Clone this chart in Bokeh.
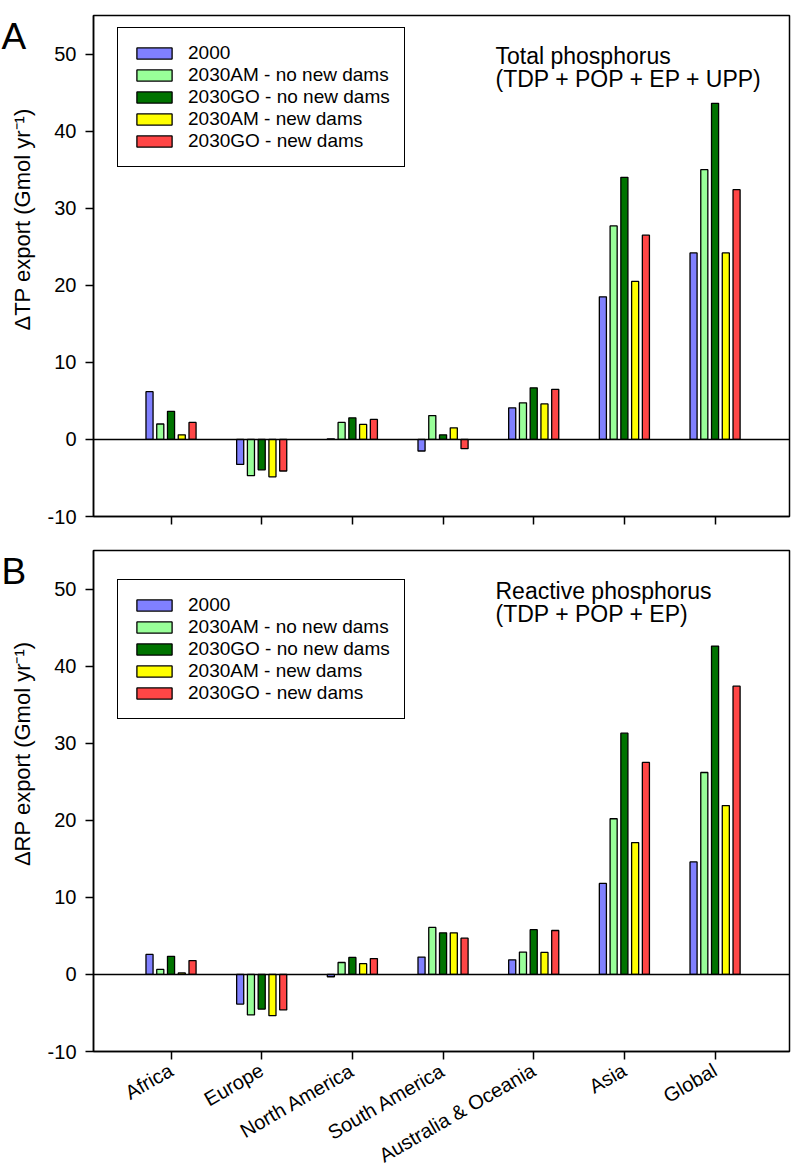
import numpy as np
from bokeh.plotting import figure
from bokeh.models import (ColumnDataSource, FixedTicker, Span, Label, Legend,
                          LegendItem, Range1d)
from bokeh.transform import dodge
from bokeh.layouts import column, row
from bokeh.embed import file_html
from bokeh.resources import INLINE

# ---------------- data ----------------
regions = ["Africa", "Europe", "North America", "South America",
           "Australia & Oceania", "Asia", "Global"]
series_names = ["2000", "2030AM - no new dams", "2030GO - no new dams",
                "2030AM - new dams", "2030GO - new dams"]
colors = ["#8080ff", "#99ff99", "#007300", "#ffff00", "#ff4646"]

# Panel A: delta TP export (Gmol/yr)
tp_2000 = [6.2, -3.25, 0.08, -1.5, 4.1, 18.5, 24.2]
tp_am_nodams = [2.0, -4.7, 2.2, 3.1, 4.75, 27.7, 35.0]
tp_go_nodams = [3.65, -3.95, 2.8, 0.6, 6.7, 34.0, 43.6]
tp_am_dams = [0.6, -4.85, 1.95, 1.5, 4.6, 20.5, 24.2]
tp_go_dams = [2.2, -4.1, 2.6, -1.2, 6.5, 26.5, 32.4]

# Panel B: delta RP export (Gmol/yr)
rp_2000 = [2.6, -3.85, -0.3, 2.25, 1.9, 11.8, 14.6]
rp_am_nodams = [0.65, -5.25, 1.55, 6.1, 2.9, 20.2, 26.2]
rp_go_nodams = [2.35, -4.5, 2.2, 5.4, 5.8, 31.3, 42.6]
rp_am_dams = [0.2, -5.35, 1.4, 5.4, 2.85, 17.1, 21.9]
rp_go_dams = [1.8, -4.6, 2.05, 4.7, 5.7, 27.5, 37.4]

y_ticks = [-10, 0, 10, 20, 30, 40, 50]

FONT = "Liberation Sans"
BAR_PITCH = 0.1186
BAR_WIDTH = 0.078
STRIP_W = 36
LEFT_BORDER = 57


def make_strip(height, letter, letter_y, ylabel, ylabel_y):
    s = figure(width=STRIP_W, height=height,
               x_range=Range1d(0, STRIP_W), y_range=Range1d(height, 0),
               output_backend="svg", toolbar_location=None,
               x_axis_location=None, y_axis_location=None,
               min_border=0, min_border_left=0, min_border_right=0,
               min_border_top=0, min_border_bottom=0)
    s.outline_line_color = None
    s.xgrid.visible = False
    s.ygrid.visible = False
    s.add_layout(Label(x=1, y=letter_y, text=letter, text_font=FONT,
                       text_font_size="37px", text_color="black",
                       text_baseline="top"))
    s.add_layout(Label(x=22, y=ylabel_y, text=ylabel, angle=np.pi / 2,
                       text_align="center", text_baseline="alphabetic",
                       text_font=FONT, text_font_size="22px",
                       text_color="black"))
    return s


def make_panel(values, title1, title2, legend_y, show_xlabels,
               border_top, border_bottom):
    data = dict(x=list(range(len(regions))))
    for i, v in enumerate(values):
        data[f"s{i}"] = v
    src = ColumnDataSource(data)

    p = figure(frame_width=696, frame_height=501,
               x_range=(-0.855, 6.821), y_range=(-10, 55),
               output_backend="svg", toolbar_location=None,
               min_border_left=LEFT_BORDER, min_border_right=4,
               min_border_top=border_top, min_border_bottom=border_bottom,
               background_fill_color="white", border_fill_color="white")

    p.xgrid.visible = False
    p.ygrid.visible = False
    p.outline_line_color = "black"
    p.outline_line_width = 1.5
    p.outline_line_alpha = 1.0

    p.add_layout(Span(location=0, dimension="width", line_color="black",
                      line_width=1.5))

    renderers = []
    for i in range(len(values)):
        r = p.vbar(x=dodge("x", (i - 2) * BAR_PITCH, range=p.x_range),
                   top=f"s{i}", bottom=0, width=BAR_WIDTH,
                   fill_color=colors[i], line_color="black", line_width=1.3,
                   source=src)
        renderers.append(r)

    legend = Legend(items=[LegendItem(label=n, renderers=[r])
                           for n, r in zip(series_names, renderers)],
                    location=(24, legend_y))
    legend.label_text_font = FONT
    legend.label_text_font_size = "19px"
    legend.label_text_color = "black"
    legend.glyph_height = 14
    legend.glyph_width = 44
    legend.label_height = 21
    legend.label_standoff = 12
    legend.spacing = 0
    legend.padding = 14
    legend.margin = 0
    legend.border_line_color = "black"
    legend.border_line_width = 1.5
    legend.border_line_alpha = 1.0
    legend.background_fill_alpha = 1.0
    p.add_layout(legend)

    yax = p.yaxis[0]
    yax.ticker = FixedTicker(ticks=y_ticks)
    yax.major_label_overrides = {-10: "-10"}
    yax.minor_tick_line_color = None
    yax.major_tick_in = 0
    yax.major_tick_out = 8
    yax.major_tick_line_width = 1.5
    yax.axis_line_width = 1.5
    yax.major_label_standoff = 9
    yax.major_label_text_font = FONT
    yax.major_label_text_font_size = "20px"
    yax.major_label_text_color = "black"

    xax = p.xaxis[0]
    xax.ticker = FixedTicker(ticks=list(range(len(regions))))
    xax.minor_tick_line_color = None
    xax.major_tick_in = 0
    xax.major_tick_out = 8
    xax.major_tick_line_width = 1.5
    xax.axis_line_width = 1.5
    xax.major_label_text_font = FONT
    xax.major_label_text_font_size = "20px"
    xax.major_label_text_color = "black"
    if show_xlabels:
        xax.major_label_overrides = {i: r for i, r in enumerate(regions)}
        xax.major_label_orientation = np.pi / 6
        xax.major_label_standoff = 9
    else:
        xax.major_label_overrides = {i: "" for i in range(len(regions))}
        xax.major_label_standoff = 0

    p.add_layout(Label(x=402, y=461, x_units="screen", y_units="screen",
                       text=title1, text_font=FONT, text_font_size="23px",
                       text_color="black", text_baseline="alphabetic"))
    p.add_layout(Label(x=402, y=438, x_units="screen", y_units="screen",
                       text=title2, text_font=FONT, text_font_size="23px",
                       text_color="black", text_baseline="alphabetic"))
    return p


H_A = 15 + 501 + 17
H_B = 17 + 502 + 107

pa = make_panel([tp_2000, tp_am_nodams, tp_go_nodams, tp_am_dams, tp_go_dams],
                "Total phosphorus", "(TDP + POP + EP + UPP)", 349,
                False, 15, 17)
pb = make_panel([rp_2000, rp_am_nodams, rp_go_nodams, rp_am_dams, rp_go_dams],
                "Reactive phosphorus", "(TDP + POP + EP)", 332,
                True, 17, 107)

sa = make_strip(H_A, "A", 0, "\u0394TP export (Gmol yr\u207b\u00b9)", 217)
sb = make_strip(H_B, "B", 0, "\u0394RP export (Gmol yr\u207b\u00b9)", 264)

layout = column(row(sa, pa, spacing=0), row(sb, pb, spacing=0), spacing=0)
open("out.html", "w").write(file_html(layout, INLINE))
